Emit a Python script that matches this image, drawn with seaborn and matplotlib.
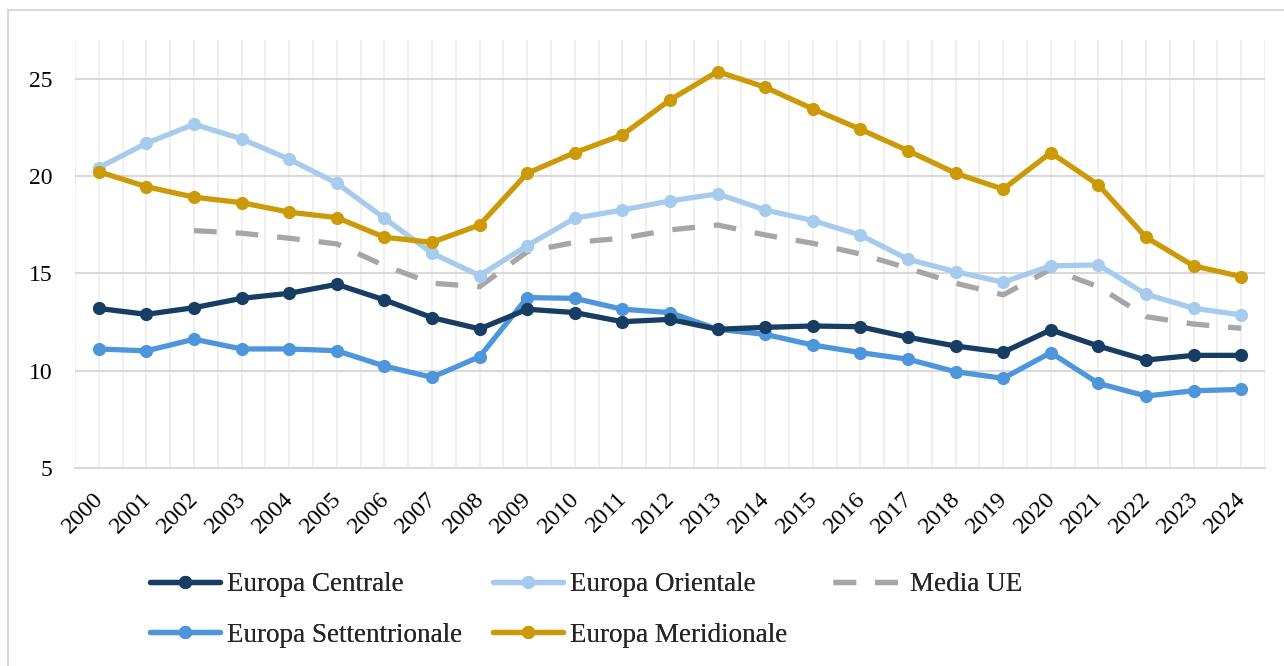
import pandas as pd
import numpy as np
import matplotlib.pyplot as plt
import matplotlib.transforms as mtransforms
import seaborn as sns
from matplotlib.patches import Rectangle

years = list(range(2000, 2025))

centrale = [13.2, 12.9, 13.24, 13.72, 13.98, 14.44, 13.64, 12.73, 12.15, 13.16, 12.99, 12.52, 12.64,
            12.13, 12.23, 12.3, 12.26, 11.72, 11.27, 10.95, 12.1, 11.27, 10.55, 10.79, 10.79]
orientale = [20.44, 21.69, 22.67, 21.92, 20.87, 19.64, 17.84, 16.04, 14.89, 16.43, 17.84, 18.26, 18.73,
             19.09, 18.26, 17.72, 16.97, 15.73, 15.09, 14.55, 15.39, 15.44, 13.93, 13.21, 12.87]
media_ue = [np.nan, np.nan, 17.2, 17.07, 16.81, 16.52, 15.4, 14.5, 14.32, 16.12, 16.6, 16.81, 17.24,
            17.49, 16.98, 16.55, 16.0, 15.27, 14.5, 13.9, 15.22, 14.32, 12.78, 12.4, 12.18]
settentrionale = [11.12, 11.02, 11.62, 11.12, 11.12, 11.03, 10.24, 9.66, 10.72, 13.76, 13.72, 13.16, 12.99,
                  12.13, 11.87, 11.32, 10.93, 10.59, 9.95, 9.61, 10.93, 9.35, 8.70, 8.97, 9.04]
meridionale = [20.23, 19.46, 18.92, 18.64, 18.15, 17.87, 16.86, 16.6, 17.49, 20.15, 21.21, 22.12, 23.92,
               25.38, 24.57, 23.46, 22.41, 21.31, 20.15, 19.33, 21.21, 19.55, 16.86, 15.39, 14.84]

series = {
    "Europa Centrale": (centrale, "#173d63", True),
    "Europa Settentrionale": (settentrionale, "#4e96db", True),
    "Europa Orientale": (orientale, "#a7cbec", True),
    "Europa Meridionale": (meridionale, "#cc9a06", True),
    "Media UE": (media_ue, "#a6a6a6", False),
}

sns.set_style("white")
plt.rcParams['font.family'] = ['Liberation Serif', 'DejaVu Serif']

fig = plt.figure(figsize=(12.84, 6.66), dpi=100)
ax = fig.add_axes([75 / 1284, 1 - 468 / 666, 1190 / 1284, 428 / 666])

# outer frame
fig.patches.append(Rectangle((8 / 1284, -0.05), 1.1, 1 - 10 / 666 + 0.05, transform=fig.transFigure,
                             fill=False, edgecolor="#d9d9d9", linewidth=1.5))

# draw order: gray dashed first, others above
for name in ["Media UE", "Europa Settentrionale", "Europa Centrale", "Europa Orientale", "Europa Meridionale"]:
    vals, col, mk = series[name]
    df = pd.DataFrame({"anno": years, "valore": vals}).dropna()
    if mk:
        sns.lineplot(data=df, x="anno", y="valore", ax=ax, color=col, linewidth=3.8,
                     marker="o", markersize=9.5, markeredgewidth=0, label=name, zorder=3)
    else:
        ax.plot(df["anno"], df["valore"], color=col, linewidth=3.8, dashes=(4.3, 3.6),
                label=name, zorder=2)

handles, labels = ax.get_legend_handles_labels()
hmap = dict(zip(labels, handles))
if ax.legend_ is not None:
    ax.legend_.remove()

ax.set_xlim(1999.5, 2024.5)
ax.set_ylim(5, 27)
ax.set_yticks([5, 10, 15, 20, 25])
ax.set_xticks(years)
ax.set_xticklabels([str(y) for y in years], rotation=45, ha="right", rotation_mode="anchor")
ax.set_xticks(np.arange(1999.5, 2025, 1.0), minor=True)
ax.set_xlabel("")
ax.set_ylabel("")

ax.grid(axis="x", which="both", color="#eeeeee", linewidth=1.2, zorder=0)
for v in [10, 15, 20, 25]:
    ax.axhline(v, color="#d9d9d9", linewidth=1.5, zorder=1)
for s in ["top", "right", "left"]:
    ax.spines[s].set_visible(False)
ax.spines["bottom"].set_color("#d9d9d9")
ax.spines["bottom"].set_linewidth(1.5)
ax.tick_params(axis="both", which="both", length=0, colors="black")
ax.tick_params(axis="y", pad=16.5, labelsize=17)
ax.tick_params(axis="x", pad=9, labelsize=17.5)

# nudge x labels a little left and down
shift = mtransforms.ScaledTranslation(-6 / 100, -8 / 100, fig.dpi_scale_trans)
for lab in ax.get_xticklabels():
    lab.set_transform(lab.get_transform() + shift)

# legend: three columns placed separately to match the spacing
columns = [
    (["Europa Centrale", "Europa Settentrionale"], 150),
    (["Europa Orientale", "Europa Meridionale"], 493),
    (["Media UE"], 833),
]
for names, x0 in columns:
    leg = fig.legend([hmap[n] for n in names], names, loc="upper left",
                     bbox_to_anchor=(x0 / 1284, 1 - 572 / 666), frameon=False, fontsize=19.5,
                     handlelength=2.6, handletextpad=0.25, labelspacing=0.95,
                     borderaxespad=0, borderpad=0)
    fig.add_artist(leg)

fig.savefig("out.png", dpi=100)
